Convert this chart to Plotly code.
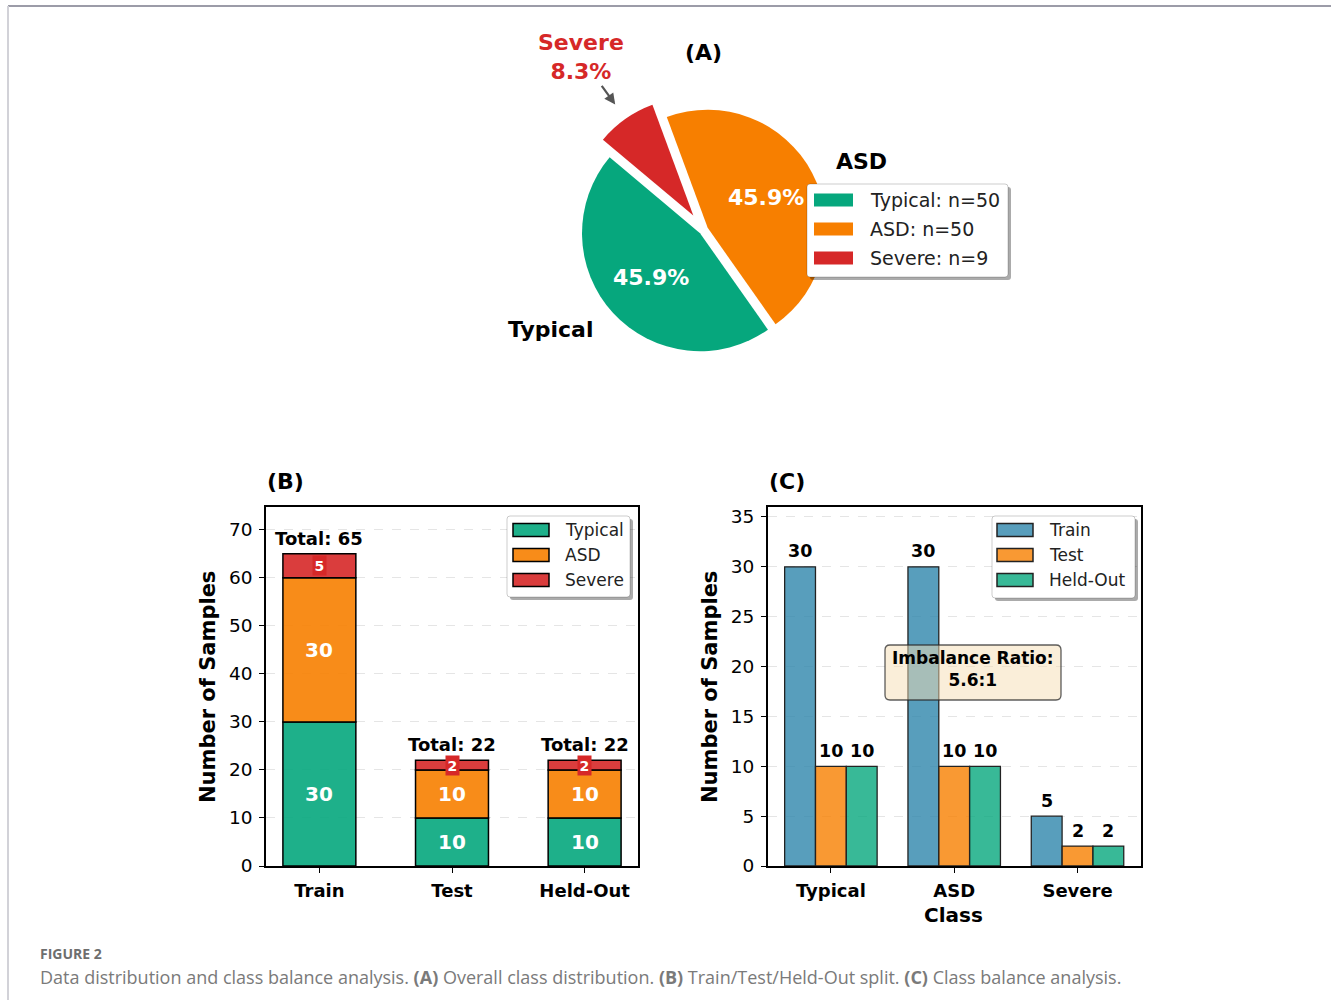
import math
import plotly.graph_objects as go

# ---------------- data ----------------
classes = ["Typical", "ASD", "Severe"]
class_counts = [50, 50, 9]

splits = ["Train", "Test", "Held-Out"]
typical_by_split = [30, 10, 10]
asd_by_split = [30, 10, 10]
severe_by_split = [5, 2, 2]

ticks_b = [0, 10, 20, 30, 40, 50, 60, 70]
ticks_c = [0, 5, 10, 15, 20, 25, 30, 35]

caption_head = "FIGURE 2"
caption_text = ("Data distribution and class balance analysis. <b>(A)</b> Overall class distribution. "
                "<b>(B)</b> Train/Test/Held-Out split. <b>(C)</b> Class balance analysis.")

# ---------------- styling ----------------
W, H = 1331, 1000
FONT = "DejaVu Sans"
CLASS_COLORS = ["#06A77D", "#F77F00", "#D62828"]
CLASS_COLORS_B = ["rgba(6,167,125,0.9)", "rgba(247,127,0,0.9)", "rgba(214,40,40,0.9)"]
SPLIT_COLORS_C = ["rgba(46,134,171,0.8)", "rgba(247,127,0,0.8)", "rgba(6,167,125,0.8)"]


def fx(px):
    return px / W


def fy(py):
    return 1 - py / H


def rrect(x0, y0, x1, y1, r=3):
    return (f"M {fx(x0 + r)},{fy(y0)} L {fx(x1 - r)},{fy(y0)} Q {fx(x1)},{fy(y0)} {fx(x1)},{fy(y0 + r)} "
            f"L {fx(x1)},{fy(y1 - r)} Q {fx(x1)},{fy(y1)} {fx(x1 - r)},{fy(y1)} "
            f"L {fx(x0 + r)},{fy(y1)} Q {fx(x0)},{fy(y1)} {fx(x0)},{fy(y1 - r)} "
            f"L {fx(x0)},{fy(y0 + r)} Q {fx(x0)},{fy(y0)} {fx(x0 + r)},{fy(y0)} Z")


shapes = []
annotations = []


def text(x, y, s, size, color="black", bold=False, xanchor="center", yanchor="middle",
         xref="paper", yref="paper", family=FONT, **kw):
    annotations.append(dict(
        x=x, y=y, xref=xref, yref=yref, text=s, showarrow=kw.pop("showarrow", False),
        xanchor=xanchor, yanchor=yanchor,
        font=dict(family=family, size=size, color=color, weight="bold" if bold else "normal"),
        **kw))


def legend_box(x0, y0, x1, y1, labels, colors, edge, patch_x, patch_w, patch_h, text_x, rows, size):
    shapes.append(dict(type="path", path=rrect(x0 + 3, y0 + 3, x1 + 3, y1 + 3), xref="paper", yref="paper",
                       fillcolor="rgba(0,0,0,0.33)", line=dict(width=0), layer="above"))
    shapes.append(dict(type="path", path=rrect(x0, y0, x1, y1), xref="paper", yref="paper",
                       fillcolor="white", line=dict(color="rgba(0,0,0,0.2)", width=1), layer="above"))
    for lab, col, ry in zip(labels, colors, rows):
        shapes.append(dict(type="rect", xref="paper", yref="paper",
                           x0=fx(patch_x), x1=fx(patch_x + patch_w),
                           y0=fy(ry + patch_h / 2), y1=fy(ry - patch_h / 2),
                           fillcolor=col, line=dict(color=edge, width=1.5 if edge else 0),
                           layer="above"))
        text(fx(text_x), fy(ry), lab, size, color="#222", xanchor="left")


fig = go.Figure()

# ---------------- (A) pie ----------------
PIE_CX, PIE_CY, PIE_R = 703.5, 230, 118
START_ANGLE = 140  # degrees, counter-clockwise from east
pulls = [0.04, 0.04, 0.15]
total = sum(class_counts)
half = PIE_R * (1 + max(pulls))
rotation = (90 - START_ANGLE - 360 * class_counts[0] / total) % 360

fig.add_trace(go.Pie(
    labels=classes, values=class_counts, sort=False, direction="counterclockwise",
    rotation=rotation, pull=pulls, textinfo="none", showlegend=False, hoverinfo="skip",
    marker=dict(colors=CLASS_COLORS, line=dict(width=0)),
    domain=dict(x=[fx(PIE_CX - half), fx(PIE_CX + half)], y=[fy(PIE_CY + half), fy(PIE_CY - half)]),
))

angle = START_ANGLE
mids = []
for v in class_counts:
    span = 360 * v / total
    mids.append(angle + span / 2)
    angle += span

for i, (name, v) in enumerate(zip(classes, class_counts)):
    a = math.radians(mids[i])
    pct = f"{100 * v / total:.1f}%"
    if name == "Severe":
        tip = (PIE_CX + 1.3 * PIE_R * math.cos(a), PIE_CY - 1.3 * PIE_R * math.sin(a))
        lab = (PIE_CX + 1.8 * PIE_R * math.cos(a), PIE_CY - 1.8 * PIE_R * math.sin(a))
        text(fx(tip[0]), fy(tip[1]), f"{name}<br>{pct}", 22, color="#D62828", bold=True,
             showarrow=True, ax=lab[0] - tip[0], ay=lab[1] - tip[1] + 1, arrowhead=2,
             arrowsize=1, arrowwidth=2.2, arrowcolor="#555555")
        continue
    d_in = (pulls[i] + 0.56) * PIE_R
    text(fx(PIE_CX + d_in * math.cos(a)), fy(PIE_CY - d_in * math.sin(a)), pct, 22,
         color="white", bold=True)
    d_out = 1.25 * PIE_R
    text(fx(PIE_CX + d_out * math.cos(a)), fy(PIE_CY - d_out * math.sin(a)), name, 22,
         bold=True, xanchor="right" if math.cos(a) < 0 else "left")

text(fx(703), fy(52), "(A)", 22, bold=True)
legend_box(807, 184, 1008, 277, [f"{c}: n={n}" for c, n in zip(classes, class_counts)],
           CLASS_COLORS, None, 814, 39, 13, 868, [200, 229, 258], 19)

# ---------------- (B) stacked split bars ----------------
BAR_W_B = 0.55
base = [0] * len(splits)
for cls, vals, col in zip(classes, [typical_by_split, asd_by_split, severe_by_split], CLASS_COLORS_B):
    fig.add_trace(go.Bar(
        x=splits, y=vals, base=base, width=BAR_W_B, offset=-BAR_W_B / 2, name=cls,
        marker=dict(color=col, line=dict(color="black", width=1.5)),
        xaxis="x", yaxis="y", showlegend=False, hoverinfo="skip"))
    for s, v, b0 in zip(splits, vals, base):
        if cls == "Severe":
            text(s, b0 + v / 2, f"{v}", 14, color="white", bold=True, xref="x", yref="y",
                 bgcolor=CLASS_COLORS[2], borderpad=1.5)
        else:
            text(s, b0 + v / 2, f"{v}", 20, color="white", bold=True, xref="x", yref="y")
    base = [b0 + v for b0, v in zip(base, vals)]

for s, t in zip(splits, base):
    text(s, t + 0.6, f"Total: {t}", 18, bold=True, xref="x", yref="y", yanchor="bottom")

text(fx(285), fy(481), "(B)", 22, bold=True)
text(fx(208), fy(687), "Number of Samples", 21, bold=True, textangle=-90)
legend_box(507, 516, 630, 597, classes, CLASS_COLORS_B, "black", 513, 36, 13, 563,
           [530, 555, 580], 17)

# ---------------- (C) grouped class bars ----------------
BAR_W_C = 0.25
per_split = {
    "Train": [typical_by_split[0], asd_by_split[0], severe_by_split[0]],
    "Test": [typical_by_split[1], asd_by_split[1], severe_by_split[1]],
    "Held-Out": [typical_by_split[2], asd_by_split[2], severe_by_split[2]],
}
for j, (s, col) in enumerate(zip(splits, SPLIT_COLORS_C)):
    off = (j - 1.5) * BAR_W_C
    fig.add_trace(go.Bar(
        x=classes, y=per_split[s], width=BAR_W_C, offset=off, name=s,
        marker=dict(color=col, line=dict(color="#222", width=1.3)),
        xaxis="x2", yaxis="y2", showlegend=False, hoverinfo="skip"))
    for i, v in enumerate(per_split[s]):
        text(i + off + BAR_W_C / 2, v + 0.35, f"{v}", 17.5, bold=True, xref="x2", yref="y2",
             yanchor="bottom")

ratio = max(class_counts) / min(class_counts)
shapes.append(dict(type="path", path=rrect(885, 645, 1061, 700, 5), xref="paper", yref="paper",
                   fillcolor="rgba(245,222,179,0.5)", line=dict(color="rgba(40,40,40,0.75)", width=1.3),
                   layer="above"))
text(fx(973), fy(669), f"Imbalance Ratio:<br>{ratio:.1f}:1", 17, bold=True)

text(fx(787), fy(481), "(C)", 22, bold=True)
text(fx(710), fy(687), "Number of Samples", 21, bold=True, textangle=-90)
text(fx(953), fy(915), "Class", 20, bold=True)
legend_box(992, 516, 1135, 598, splits, SPLIT_COLORS_C, "#222", 997, 36, 13, 1047,
           [530, 555, 580], 17)

# ---------------- frame + caption ----------------
shapes.append(dict(type="line", xref="paper", yref="paper", x0=fx(8), x1=1, y0=fy(6), y1=fy(6),
                   line=dict(color="#9c9ca8", width=2)))
shapes.append(dict(type="line", xref="paper", yref="paper", x0=fx(8), x1=fx(8), y0=fy(6), y1=0,
                   line=dict(color="#d2d2d8", width=2)))
text(fx(38), fy(953), caption_head, 14, color="#6e6e6e", bold=True, xanchor="left",
     family="Open Sans")
text(fx(38), fy(977), caption_text, 18, color="#7a7a7a", xanchor="left", family="Open Sans")

# ---------------- axes ----------------
axis_common = dict(showline=True, linecolor="black", linewidth=1.5, mirror=True, ticks="outside",
                   ticklen=5, tickwidth=1.2, tickcolor="black", zeroline=False,
                   ticklabelstandoff=3,
                   tickfont=dict(family=FONT, size=18.5, color="black"))
ygrid = dict(showgrid=True, gridcolor="rgba(0,0,0,0.1)", griddash="dash", gridwidth=1)

fig.update_layout(
    width=W, height=H, autosize=False, margin=dict(l=0, r=0, t=0, b=0, autoexpand=False),
    paper_bgcolor="white", plot_bgcolor="white", barmode="overlay", hovermode=False,
    font=dict(family=FONT),
    xaxis=dict(domain=[fx(266), fx(638)], anchor="y", type="category",
               range=[-0.4025, 2.4025], showgrid=False, **{**axis_common,
               "tickfont": dict(family=FONT, size=18, color="black", weight="bold")}),
    yaxis=dict(domain=[fy(866), fy(507)], anchor="x", range=[0, 74.75], tickvals=ticks_b,
               **ygrid, **axis_common),
    xaxis2=dict(domain=[fx(767.7), fx(1140.7)], anchor="y2", type="category",
                range=[-0.5125, 2.5125], showgrid=False, **{**axis_common,
                "tickfont": dict(family=FONT, size=18, color="black", weight="bold")}),
    yaxis2=dict(domain=[fy(866), fy(507)], anchor="x2", range=[0, 36], tickvals=ticks_c,
                **ygrid, **axis_common),
    shapes=shapes, annotations=annotations,
)

fig.write_html("out.html", config={"responsive": False},
               default_width=f"{W}px", default_height=f"{H}px")
